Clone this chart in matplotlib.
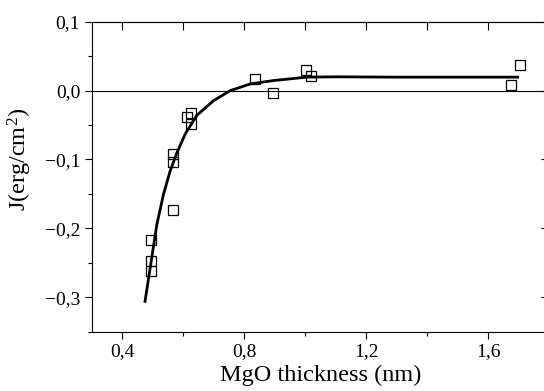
import matplotlib
matplotlib.use("Agg")
import matplotlib.pyplot as plt
from matplotlib.ticker import MultipleLocator

plt.rcParams['font.family'] = ['Liberation Serif', 'DejaVu Serif']
plt.rcParams['mathtext.fontset'] = 'custom'
plt.rcParams['mathtext.rm'] = 'Liberation Serif'
plt.rcParams['mathtext.it'] = 'Liberation Serif:italic'

# measured points
thickness = [0.493, 0.493, 0.493, 0.566, 0.567, 0.567, 0.613, 0.626, 0.626,
             0.834, 0.893, 1.004, 1.020, 1.675, 1.706]
coupling = [-0.217, -0.247, -0.262, -0.173, -0.092, -0.104, -0.038, -0.033, -0.048,
            0.017, -0.003, 0.030, 0.021, 0.008, 0.037]

# fitted curve
fit_x = [0.474, 0.496, 0.513, 0.535, 0.557, 0.579, 0.606, 0.644, 0.699,
         0.754, 0.820, 0.896, 1.004, 1.100, 1.300, 1.500, 1.697]
fit_y = [-0.306, -0.243, -0.194, -0.150, -0.116, -0.090, -0.063, -0.036, -0.0146,
         0.0, 0.0097, 0.0146, 0.0195, 0.020, 0.0195, 0.0195, 0.0195]

x_ticks = [0.4, 0.8, 1.2, 1.6]
x_labels = ['0,4', '0,8', '1,2', '1,6']
y_ticks = [0.1, 0.0, -0.1, -0.2, -0.3]
y_labels = ['0,1', '0,0', '\u22120,1', '\u22120,2', '\u22120,3']

fig = plt.figure(figsize=(5.44, 3.91), dpi=100)
ax = fig.add_axes([92 / 544, 1 - 331.7 / 391, 457 / 544, 310 / 391])

ax.axhline(0, color='black', lw=0.8, zorder=1)
ax.plot(fit_x, fit_y, color='black', lw=2.0, zorder=2)
ax.plot(thickness, coupling, 's', ms=6.5, mfc='none', mec='black', mew=0.9, zorder=3)

ax.set_xlim(0.3, 1.8)
ax.set_ylim(-0.35, 0.1)
ax.set_xticks(x_ticks)
ax.set_xticklabels(x_labels)
ax.set_yticks(y_ticks)
ax.set_yticklabels(y_labels)
ax.xaxis.set_minor_locator(MultipleLocator(0.2))
ax.yaxis.set_minor_locator(MultipleLocator(0.05))
ax.tick_params(which='major', direction='out', length=5, width=0.8, labelsize=14)
ax.tick_params(which='minor', direction='out', length=3, width=0.8)

top = ax.secondary_xaxis('top')
top.set_xticks([0.4, 0.6, 0.8, 1.0, 1.2, 1.4, 1.6])
top.tick_params(direction='in', length=6, width=0.8, labeltop=False)
right = ax.secondary_yaxis('right')
right.set_yticks(y_ticks)
right.tick_params(direction='in', length=6, width=0.8, labelright=False)

for s in ax.spines.values():
    s.set_linewidth(0.8)

ax.set_xlabel('MgO thickness (nm)', fontsize=17.5, labelpad=3)
ax.set_ylabel(r'J(erg/cm$^2$)', fontsize=17.5)
ax.yaxis.set_label_coords(-0.126, 0.555)

fig.savefig('out.png', dpi=100)
